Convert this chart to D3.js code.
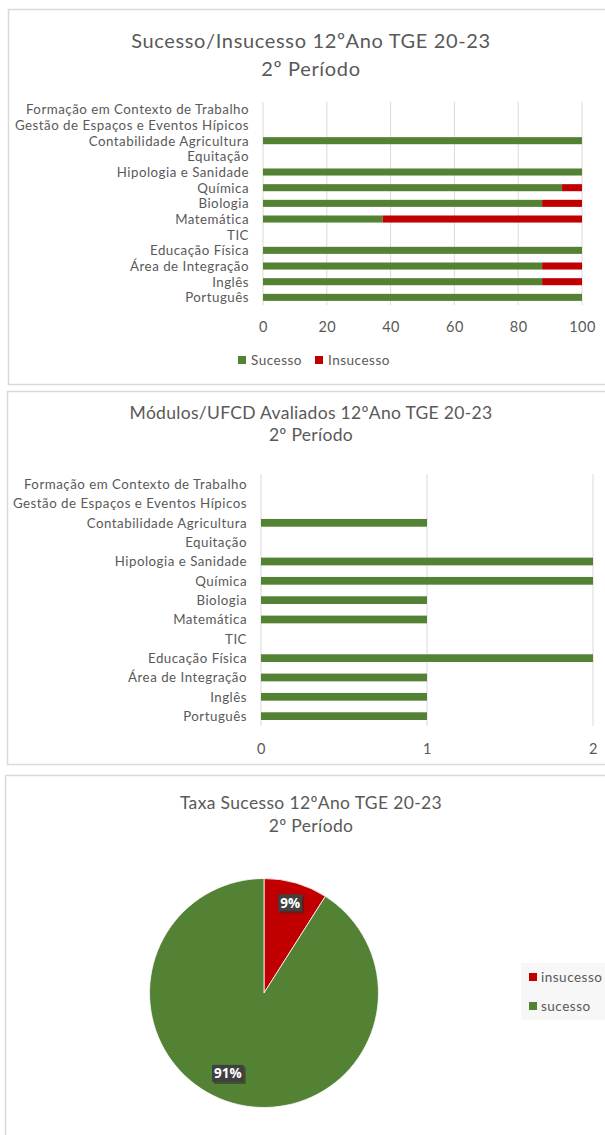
<!DOCTYPE html>
<html>
<head>
<meta charset="utf-8">
<script src="https://cdn.jsdelivr.net/npm/d3@7"></script>
<style>
  html, body { margin: 0; padding: 0; background: #fff; }
  svg { display: block; }
  text { font-family: Lato, "Liberation Sans", Arial, sans-serif; fill: #595959; }
</style>
</head>
<body>
<svg id="chart" width="605" height="1135"></svg>
<script>
// ---------- DATA ----------
const categories = [
  "Formação em Contexto de Trabalho",
  "Gestão de Espaços e Eventos Hípicos",
  "Contabilidade Agricultura",
  "Equitação",
  "Hipologia e Sanidade",
  "Química",
  "Biologia",
  "Matemática",
  "TIC",
  "Educação Física",
  "Área de Integração",
  "Inglês",
  "Português"
];
const sucesso   = [0, 0, 100, 0, 100, 93.75, 87.5, 37.5, 0, 100, 87.5, 87.5, 100];
const insucesso = [0, 0, 0,   0, 0,   6.25,  12.5, 62.5, 0, 0,   12.5, 12.5, 0];
const ticks1 = [0, 20, 40, 60, 80, 100];

const modulos = [0, 0, 1, 0, 2, 2, 1, 1, 0, 2, 1, 1, 1];
const ticks2 = [0, 1, 2];

const pieLabels = ["insucesso", "sucesso"];
const pieValues = [9, 91];

const titles1 = ["Sucesso/Insucesso  12ºAno TGE 20-23", "2º Período"];
const titles2 = ["Módulos/UFCD Avaliados 12ºAno TGE 20-23", "2º Período"];
const titles3 = ["Taxa Sucesso 12ºAno TGE 20-23", "2º Período"];
const legend1 = ["Sucesso", "Insucesso"];

// ---------- STYLE ----------
const GREEN = "#548235", RED = "#C00000", GRID = "#d9d9d9", BORDER = "#d9d9d9";
const FONT = "Lato, 'Liberation Sans', sans-serif";
const svg = d3.select("#chart");

function frame(x, y, w, h) {
  svg.append("rect").attr("x", x).attr("y", y).attr("width", w).attr("height", h)
    .attr("fill", "#fff").attr("stroke", BORDER).attr("stroke-width", 1.5);
}
function title(lines, ys, size, ls) {
  lines.forEach((t, i) => {
    svg.append("text").attr("x", 311).attr("y", ys[i]).attr("text-anchor", "middle")
      .attr("dominant-baseline", "central").attr("font-size", size)
      .attr("letter-spacing", ls).text(t);
  });
}
function styleAxisText(sel, size, ls) {
  sel.selectAll("text").attr("font-size", size).attr("dy", null).attr("dominant-baseline", "central")
    .attr("letter-spacing", ls).style("fill", "#595959").style("font-family", FONT);
}

// ---------- CHART 1 ----------
frame(8.5, 9.5, 620, 375);
title(titles1, [40, 68], 20, 0.65);

const x1 = d3.scaleLinear().domain([0, 100]).range([263, 582]);
const y1 = d3.scaleBand().domain(categories).range([101.5, 305.2]).paddingInner(0.55).paddingOuter(0.275);

const g1 = svg.append("g");
g1.selectAll("line.grid").data(ticks1).join("line")
  .attr("x1", d => x1(d)).attr("x2", d => x1(d)).attr("y1", 102).attr("y2", 305)
  .attr("stroke", GRID).attr("stroke-width", 1);
g1.selectAll("rect.s").data(categories).join("rect")
  .attr("x", x1(0)).attr("y", d => y1(d))
  .attr("width", (d, i) => x1(sucesso[i]) - x1(0)).attr("height", y1.bandwidth())
  .attr("fill", GREEN);
g1.selectAll("rect.i").data(categories).join("rect")
  .attr("x", (d, i) => x1(sucesso[i])).attr("y", d => y1(d))
  .attr("width", (d, i) => x1(sucesso[i] + insucesso[i]) - x1(sucesso[i])).attr("height", y1.bandwidth())
  .attr("fill", RED);

const gax1 = svg.append("g").attr("transform", "translate(0,326)")
  .call(d3.axisBottom(x1).tickValues(ticks1).tickSize(0).tickPadding(0));
gax1.select(".domain").remove();
styleAxisText(gax1, 14.5, 0.5);

const gay1 = svg.append("g").attr("transform", "translate(249,0)")
  .call(d3.axisLeft(y1).tickSize(0).tickPadding(0));
gay1.select(".domain").remove();
styleAxisText(gay1, 13.3, 0.5);

// legend 1
const leg1x = [238, 315];
legend1.forEach((t, i) => {
  svg.append("rect").attr("x", leg1x[i]).attr("y", 356).attr("width", 8).attr("height", 8)
    .attr("fill", i === 0 ? GREEN : RED);
  svg.append("text").attr("x", leg1x[i] + 13).attr("y", 360).attr("dominant-baseline", "central")
    .attr("font-size", 13.5).attr("letter-spacing", 0.5).text(t);
});

// ---------- CHART 2 ----------
frame(7.5, 391.5, 620, 373);
title(titles2, [412, 434], 17.5, 0.3);

const x2 = d3.scaleLinear().domain([0, 2]).range([261, 593]);
const y2 = d3.scaleBand().domain(categories).range([474.5, 725.8]).paddingInner(0.6).paddingOuter(0.3);

svg.append("g").selectAll("line").data(ticks2).join("line")
  .attr("x1", d => x2(d)).attr("x2", d => x2(d)).attr("y1", 474).attr("y2", 726)
  .attr("stroke", GRID).attr("stroke-width", 1);
svg.append("g").selectAll("rect").data(categories).join("rect")
  .attr("x", x2(0)).attr("y", d => y2(d))
  .attr("width", (d, i) => x2(modulos[i]) - x2(0)).attr("height", y2.bandwidth())
  .attr("fill", GREEN);

const gax2 = svg.append("g").attr("transform", "translate(0,748)")
  .call(d3.axisBottom(x2).tickValues(ticks2).tickFormat(d3.format("d")).tickSize(0).tickPadding(0));
gax2.select(".domain").remove();
styleAxisText(gax2, 14.5, 0.5);

const gay2 = svg.append("g").attr("transform", "translate(247,0)")
  .call(d3.axisLeft(y2).tickSize(0).tickPadding(0));
gay2.select(".domain").remove();
styleAxisText(gay2, 13.3, 0.5);

// ---------- CHART 3 ----------
frame(5.5, 775.5, 625, 370);
title(titles3, [802, 825], 17.5, 0.35);

const cx = 264, cy = 993, R = 114.5;
const pie = d3.pie().sort(null).value(d => d)(pieValues);
const arc = d3.arc().innerRadius(0).outerRadius(R);
const gp = svg.append("g").attr("transform", `translate(${cx},${cy})`);
gp.selectAll("path").data(pie).join("path")
  .attr("d", arc).attr("fill", (d, i) => i === 0 ? RED : GREEN)
  .attr("stroke", "#fff").attr("stroke-width", 0.8);

// data labels (Excel "best fit" placement: radius factor and angle nudge per slice)
const labelPlace = [{ r: 0.82, da: 0 }, { r: 0.77, da: 0.14 }];
const fmt = d => d3.format(".0%")(d.value / d3.sum(pieValues));
pie.forEach((d, i) => {
  const a = (d.startAngle + d.endAngle) / 2 + labelPlace[i].da;
  const rr = R * labelPlace[i].r;
  const gl = gp.append("g").attr("transform", `translate(${rr * Math.sin(a)},${-rr * Math.cos(a)})`);
  const t = gl.append("text").attr("text-anchor", "middle").attr("dominant-baseline", "central")
    .attr("font-size", 13.5).attr("font-weight", "bold").style("fill", "#fff")
    .style("font-family", "'Open Sans', 'DejaVu Sans', sans-serif").text(fmt(d));
  const w = t.node().getComputedTextLength() + 4, h = 17;
  gl.insert("rect", "text").attr("x", -w / 2 + 2).attr("y", -h / 2 + 2).attr("width", w).attr("height", h)
    .attr("fill", "#2a2a2a").attr("opacity", 0.55);
  gl.insert("rect", "text").attr("x", -w / 2).attr("y", -h / 2).attr("width", w).attr("height", h)
    .attr("fill", "#404040");
});

// legend 3
svg.append("rect").attr("x", 521).attr("y", 963).attr("width", 90).attr("height", 57).attr("fill", "#f7f7f7");
pieLabels.forEach((t, i) => {
  const yy = [977, 1006][i];
  svg.append("rect").attr("x", 529).attr("y", yy - 4).attr("width", 8).attr("height", 8)
    .attr("fill", i === 0 ? RED : GREEN);
  svg.append("text").attr("x", 541).attr("y", yy).attr("dominant-baseline", "central")
    .attr("font-size", 13.5).attr("letter-spacing", 0.5).text(t);
});
</script>
</body>
</html>
